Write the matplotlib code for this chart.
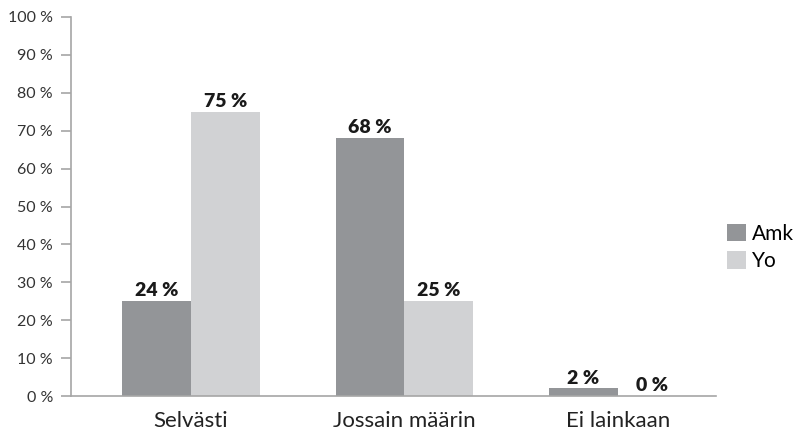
import matplotlib
matplotlib.use("Agg")
import matplotlib.pyplot as plt
import numpy as np

categories = ["Selvästi", "Jossain määrin", "Ei lainkaan"]
series_names = ["Amk", "Yo"]
amk = [25, 68, 2]
yo = [75, 25, 0]
amk_labels = ["24 %", "68 %", "2 %"]
yo_labels = ["75 %", "25 %", "0 %"]
y_ticks = [0, 10, 20, 30, 40, 50, 60, 70, 80, 90, 100]
y_tick_labels = [f"{v} %" for v in y_ticks]

colors = ["#939598", "#d1d2d4"]
axis_color = "#a6a6a6"

plt.rcParams['font.family'] = ['Lato', 'DejaVu Sans']

fig = plt.figure(figsize=(7.98, 4.30), dpi=100)
ax = fig.add_axes([71/798, 34/430, (716-71)/798, (396-17)/430])

x = np.arange(len(categories))
w = 0.323
b1 = ax.bar(x - w/2, amk, w, color=colors[0], label=series_names[0])
b2 = ax.bar(x + w/2, yo, w, color=colors[1], label=series_names[1])

for bars, labs in ((b1, amk_labels), (b2, yo_labels)):
    for r, lab in zip(bars, labs):
        ax.text(r.get_x() + r.get_width()/2, r.get_height() + 0.5, lab,
                ha="center", va="bottom", fontsize=14, fontweight="heavy",
                color="#1a1a1a")

ax.set_xlim(-0.562, 2.459)
ax.set_ylim(0, 100)
ax.set_yticks(y_ticks)
ax.set_yticklabels(y_tick_labels)
ax.set_xticks(x)
ax.set_xticklabels(categories)

for s in ["top", "right"]:
    ax.spines[s].set_visible(False)
for s in ["left", "bottom"]:
    ax.spines[s].set_color(axis_color)
    ax.spines[s].set_linewidth(1.2)

ax.tick_params(axis="y", length=7, width=1.2, color=axis_color,
               labelsize=11.5, labelcolor="#333333", pad=6)
ax.tick_params(axis="x", length=0, labelsize=16, labelcolor="#222222", pad=11)

leg = fig.legend(handles=[b1, b2], labels=series_names,
                 loc="upper left", bbox_to_anchor=(727/798, 1 - 224/430),
                 frameon=False, fontsize=15, handlelength=0.9,
                 handleheight=0.9, handletextpad=0.3, labelspacing=0.35,
                 borderaxespad=0, borderpad=0)

fig.savefig("out.png", dpi=100)
